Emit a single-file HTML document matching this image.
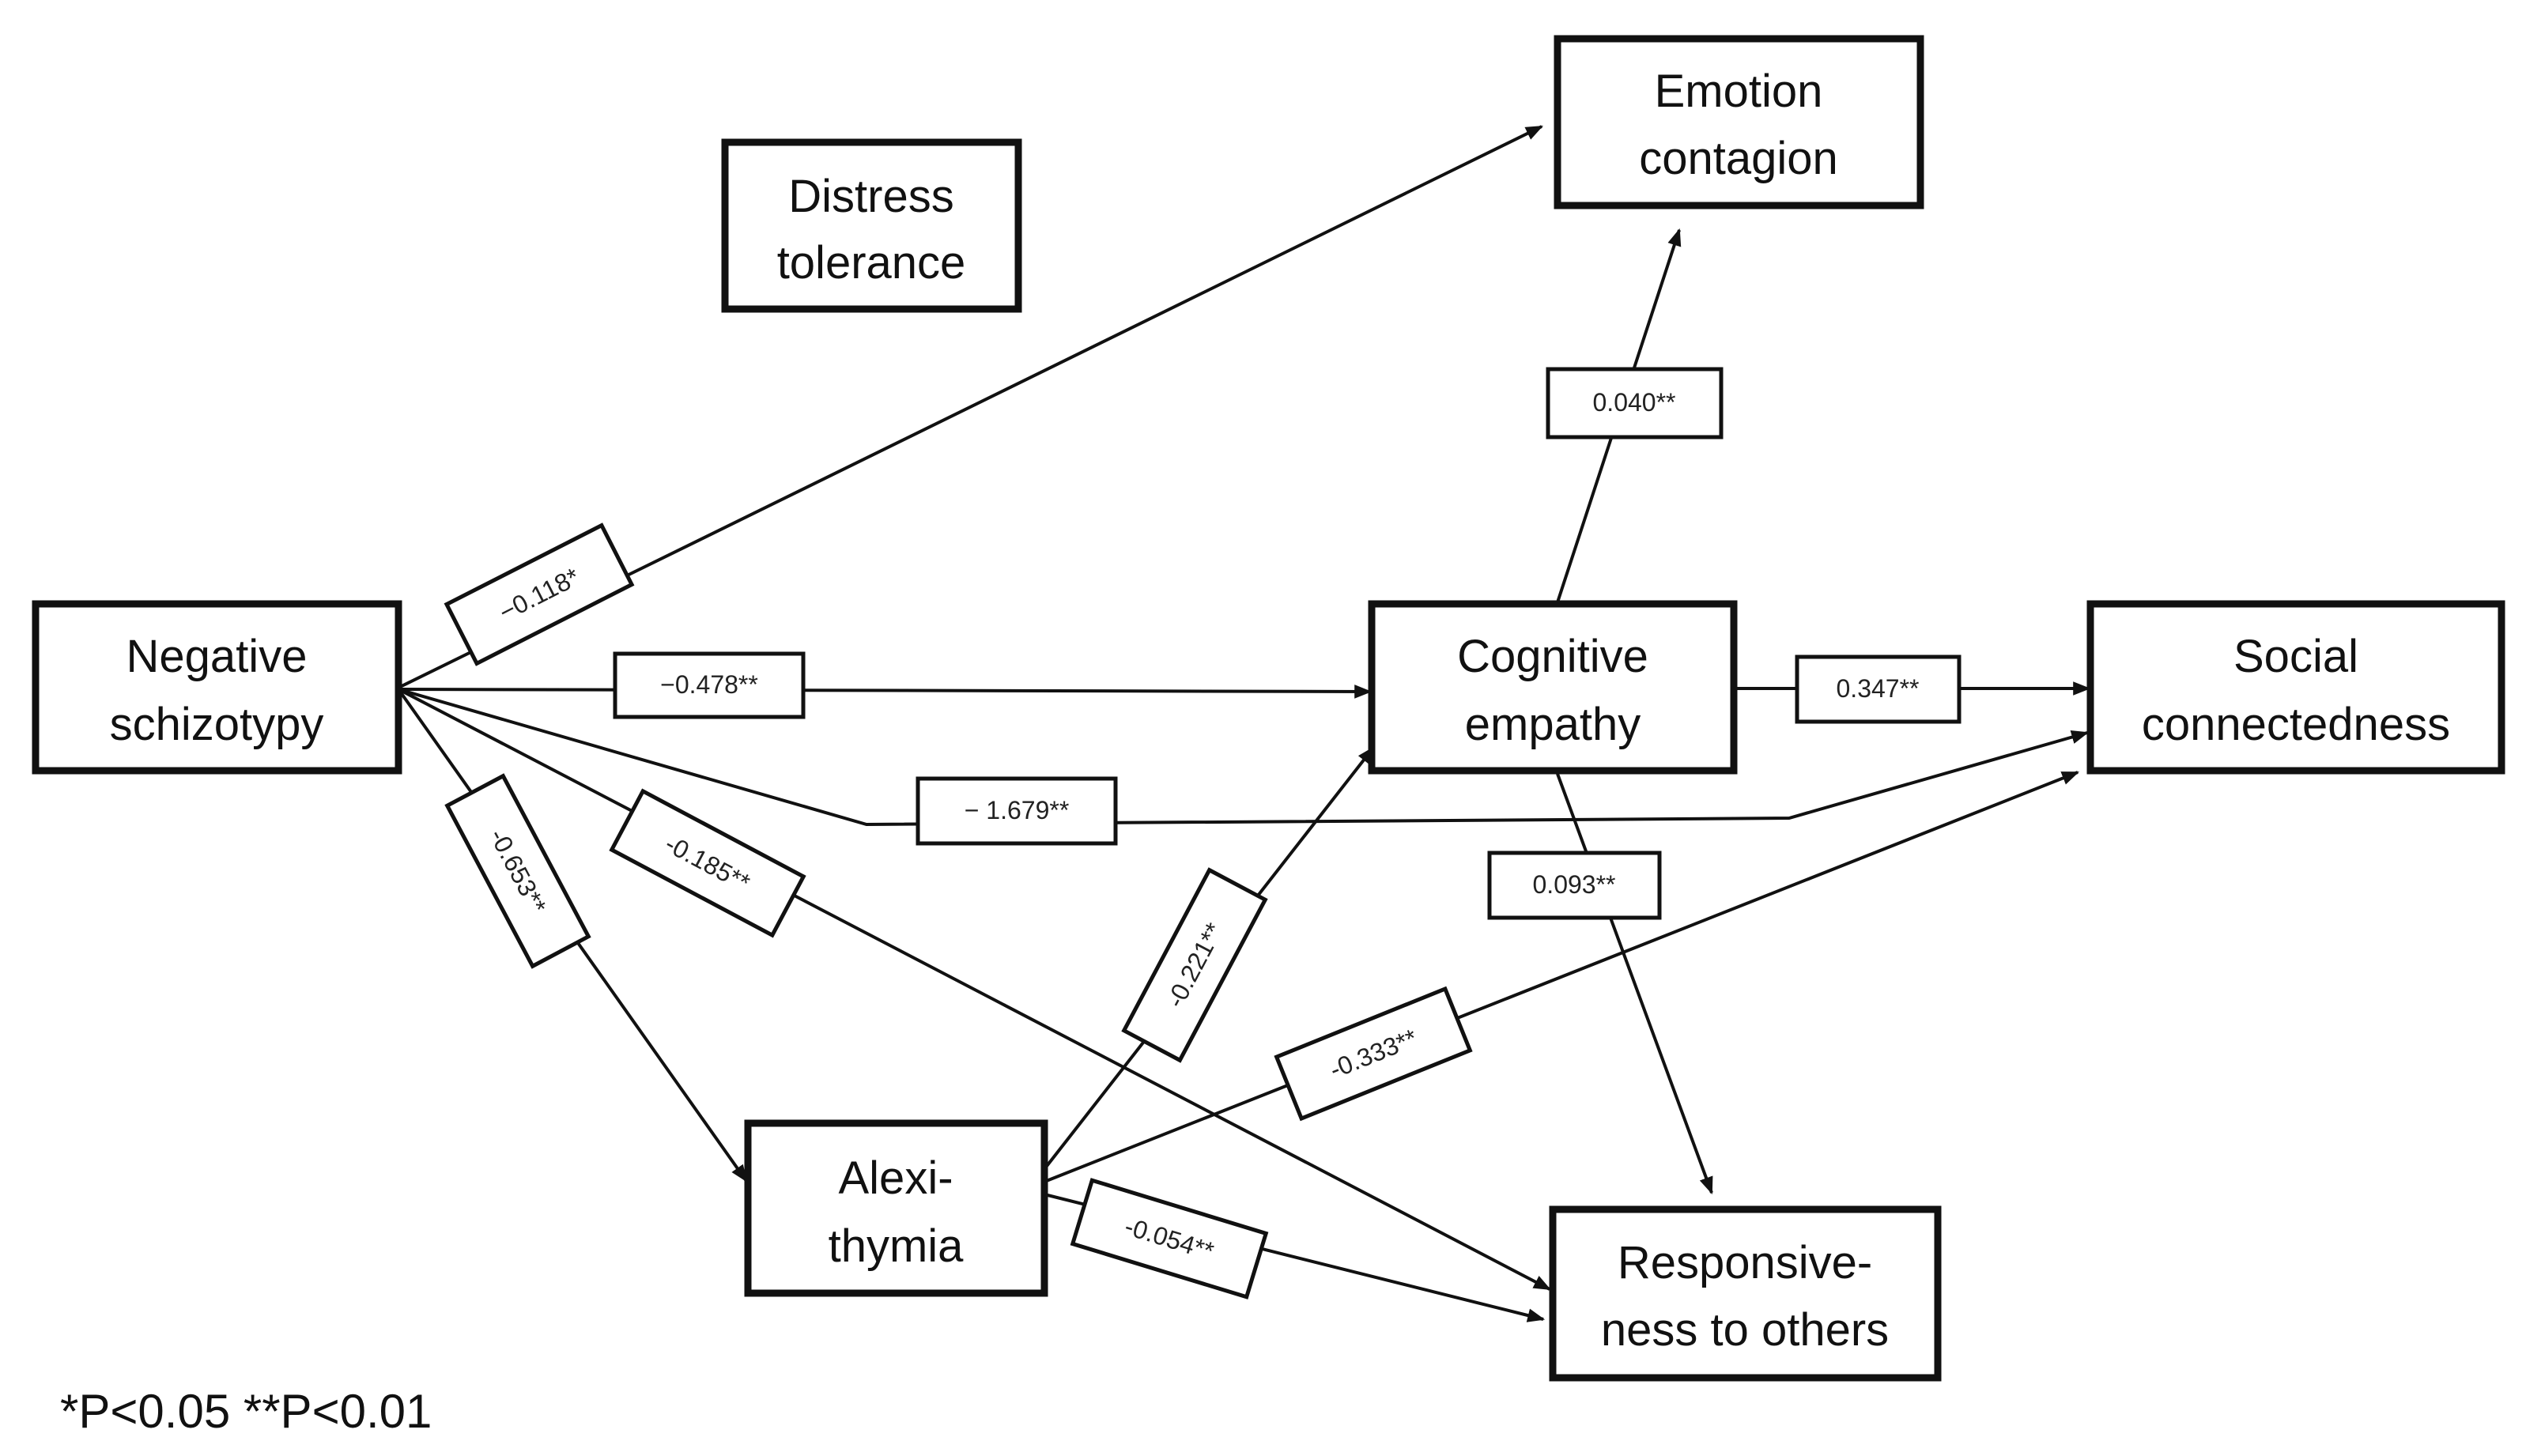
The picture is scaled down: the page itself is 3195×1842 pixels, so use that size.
<!DOCTYPE html>
<html><head><meta charset="utf-8"><style>
html,body{margin:0;padding:0;background:#fff;}
svg{display:block;}
.n{font-family:"Liberation Sans",sans-serif;font-size:58px;fill:#111;text-anchor:middle;}
.l{font-family:"Liberation Sans",sans-serif;font-size:32px;fill:#222;text-anchor:middle;}
</style></head><body>
<svg width="3195" height="1842" viewBox="0 0 3195 1842" xmlns="http://www.w3.org/2000/svg">
<defs><marker id="a" markerWidth="10" markerHeight="8" refX="9" refY="4" orient="auto" markerUnits="userSpaceOnUse" viewBox="0 0 10 8"><path d="M0,0 L10,4 L0,8z" fill="#111"/></marker>
<marker id="b" viewBox="0 0 10 8" refX="9" refY="4" markerWidth="22" markerHeight="18" orient="auto" markerUnits="userSpaceOnUse"><path d="M0,0 L10,4 L0,8z" fill="#111"/></marker></defs>
<g stroke="#111" stroke-width="4" fill="none">
<line x1="504" y1="870" x2="1950" y2="160" marker-end="url(#b)"/>
<line x1="504" y1="872" x2="1733" y2="875" marker-end="url(#b)"/>
<polyline points="504,872 1096,1043 2263,1035 2640,927" marker-end="url(#b)"/>
<line x1="504" y1="872" x2="1960" y2="1631" marker-end="url(#b)"/>
<line x1="504" y1="872" x2="944" y2="1494" marker-end="url(#b)"/>
<line x1="1970" y1="762" x2="2124" y2="291" marker-end="url(#b)"/>
<line x1="2193" y1="871" x2="2642" y2="871" marker-end="url(#b)"/>
<line x1="1970" y1="979" x2="2165" y2="1509" marker-end="url(#b)"/>
<line x1="1321" y1="1479" x2="1737" y2="946" marker-end="url(#b)"/>
<line x1="1321" y1="1495" x2="2628" y2="977" marker-end="url(#b)"/>
<line x1="1321" y1="1511" x2="1952" y2="1669" marker-end="url(#b)"/>
</g>
<g fill="#fff" stroke="#111" stroke-width="5">
<rect x="917" y="180" width="371" height="211" stroke-width="9"/>
<rect x="1970" y="49" width="459" height="211" stroke-width="9"/>
<rect x="45" y="764" width="459" height="211" stroke-width="9"/>
<rect x="1735" y="764" width="458" height="211" stroke-width="9"/>
<rect x="2644" y="764" width="520" height="211" stroke-width="9"/>
<rect x="946" y="1421" width="375" height="215" stroke-width="9"/>
<rect x="1964" y="1530" width="487" height="213" stroke-width="9"/>
<rect x="778" y="827" width="238" height="80"/>
<rect x="1161" y="985" width="250" height="82"/>
<rect x="1958" y="467" width="219" height="86"/>
<rect x="2273" y="831" width="205" height="82"/>
<rect x="1884" y="1079" width="215" height="82"/>
</g>
<g class="l">
<text x="897" y="877">−0.478**</text>
<text x="1286" y="1036">− 1.679**</text>
<text x="2067" y="520">0.040**</text>
<text x="2375" y="882">0.347**</text>
<text x="1991" y="1130">0.093**</text>
</g>
<g fill="#fff" stroke="#111" stroke-width="5">
<g transform="translate(682,752) rotate(-27)"><rect x="-110" y="-42" width="220" height="84"/><text class="l" x="0" y="11" stroke="none" fill="#222">−0.118*</text></g>
<g transform="translate(895,1092) rotate(28)"><rect x="-115" y="-42" width="230" height="84"/><text class="l" x="0" y="11" stroke="none" fill="#222">-0.185**</text></g>
<g transform="translate(655,1102) rotate(62)"><rect x="-115" y="-40" width="230" height="80"/><text class="l" x="0" y="11" stroke="none" fill="#222">-0.653**</text></g>
<g transform="translate(1511,1221) rotate(-62)"><rect x="-115" y="-40" width="230" height="80"/><text class="l" x="0" y="11" stroke="none" fill="#222">-0.221**</text></g>
<g transform="translate(1737,1333) rotate(-22)"><rect x="-115" y="-42" width="230" height="84"/><text class="l" x="0" y="11" stroke="none" fill="#222">-0.333**</text></g>
<g transform="translate(1479,1567) rotate(17)"><rect x="-115" y="-42" width="230" height="84"/><text class="l" x="0" y="11" stroke="none" fill="#222">-0.054**</text></g>
</g>
<g class="n">
<text x="1102" y="268">Distress</text><text x="1102" y="352">tolerance</text>
<text x="2199" y="135">Emotion</text><text x="2199" y="220">contagion</text>
<text x="274" y="850">Negative</text><text x="274" y="936">schizotypy</text>
<text x="1964" y="850">Cognitive</text><text x="1964" y="936">empathy</text>
<text x="2904" y="850">Social</text><text x="2904" y="936">connectedness</text>
<text x="1133" y="1510">Alexi-</text><text x="1133" y="1596">thymia</text>
<text x="2207" y="1617">Responsive-</text><text x="2207" y="1702">ness to others</text>
</g>
<text x="76" y="1806" style="font-family:'Liberation Sans',sans-serif;font-size:60px;fill:#111">*P&lt;0.05 **P&lt;0.01</text>
</svg>
</body></html>
